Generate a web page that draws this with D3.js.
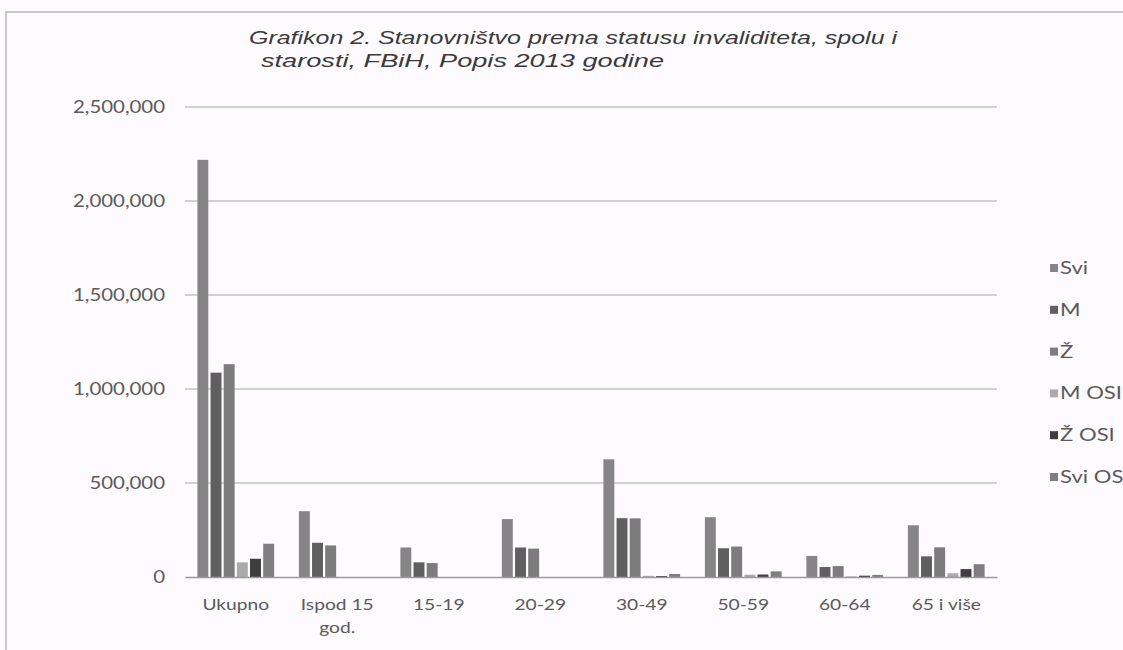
<!DOCTYPE html>
<html>
<head>
<meta charset="utf-8">
<script src="https://cdn.jsdelivr.net/npm/d3@7"></script>
<style>
  body { margin: 0; background: #fdfbfd; overflow: hidden; }
  svg { display: block; }
</style>
</head>
<body>
<div id="chart"></div>
<script>
// categories and series
var categories = ["Ukupno", "Ispod 15 god.", "15-19", "20-29", "30-49", "50-59", "60-64", "65 i više"];
var seriesNames = ["Svi", "M", "Ž", "M OSI", "Ž OSI", "Svi OSI"];
var svi    = [2219000, 350000, 157000, 308000, 626000, 318000, 112000, 275000];
var m      = [1087000, 182000, 78000, 157000, 313000, 153000, 53000, 110000];
var z      = [1132000, 168000, 74000, 151000, 312000, 162000, 58000, 158000];
var mOsi   = [78000, 0, 0, 0, 6000, 12000, 3000, 20000];
var zOsi   = [97000, 0, 0, 0, 5000, 13000, 7000, 42000];
var sviOsi = [177000, 0, 0, 0, 16000, 30000, 11000, 68000];
var yTicks = [0, 500000, 1000000, 1500000, 2000000, 2500000];
var colors = ["#858585", "#5f5f5f", "#7c7c7c", "#ababab", "#3e3e3e", "#7e7e7e"];

var series = [svi, m, z, mOsi, zOsi, sviOsi];

var width = 1123, height = 650;
var margin = { top: 107, right: 126, bottom: 73, left: 185 };
var plotW = width - margin.left - margin.right,
    plotH = height - margin.top - margin.bottom;
var stretch = 1.2; // the scanned text is wider than it is tall
var labelFont = "Lato, 'Open Sans', sans-serif";

var svg = d3.select("#chart").append("svg")
    .attr("width", width)
    .attr("height", height);

// scan frame
svg.append("path")
    .attr("d", "M6," + height + "V12H" + width)
    .attr("fill", "none")
    .attr("stroke", "#c9c9c9")
    .attr("stroke-width", 2);

var g = svg.append("g")
    .attr("transform", "translate(" + margin.left + "," + margin.top + ")");

var x0 = d3.scaleBand()
    .domain(categories)
    .range([0, plotW])
    .paddingInner(0.2)
    .paddingOuter(0.1);
var x1 = d3.scaleBand()
    .domain(seriesNames)
    .range([0, x0.bandwidth()])
    .padding(0.17);
var y = d3.scaleLinear()
    .domain([0, 2500000])
    .range([plotH, 0]);

// gridlines
g.append("g")
    .selectAll("line")
    .data(yTicks.slice(1))
    .enter().append("line")
    .attr("x1", 0)
    .attr("x2", plotW)
    .attr("y1", function(d) { return y(d) })
    .attr("y2", function(d) { return y(d) })
    .attr("stroke", "#a9a9a9")
    .attr("stroke-width", 1.2);

// y axis labels
var yAxis = g.append("g")
    .call(d3.axisLeft(y).tickValues(yTicks).tickSize(0).tickFormat(d3.format(",")));
yAxis.select(".domain").remove();
yAxis.selectAll("text")
    .attr("x", -20 / stretch)
    .attr("transform", "scale(" + stretch + ",1)")
    .attr("font-family", labelFont)
    .attr("font-size", 17)
    .attr("fill", "#5a5a5a");

// bars
var groups = g.selectAll(".grp")
    .data(categories)
    .enter().append("g")
    .attr("class", "grp")
    .attr("transform", function(d) { return "translate(" + x0(d) + ",0)" });

groups.selectAll("rect")
    .data(function(d, i) {
        return seriesNames.map(function(s, k) { return { key: s, value: series[k][i], k: k } });
    })
    .enter().append("rect")
    .attr("x", function(d) { return x1(d.key) })
    .attr("width", x1.bandwidth())
    .attr("y", function(d) { return y(d.value) })
    .attr("height", function(d) { return plotH - y(d.value) })
    .attr("fill", function(d) { return colors[d.k] });

// x axis
var xAxis = g.append("g")
    .attr("transform", "translate(0," + plotH + ")")
    .call(d3.axisBottom(x0).tickSize(0).tickPadding(22));
xAxis.select(".domain")
    .attr("stroke", "#9a9a9a")
    .attr("stroke-width", 1.5);
xAxis.selectAll("text")
    .attr("transform", "scale(" + stretch + ",1)")
    .attr("font-family", labelFont)
    .attr("font-size", 16)
    .attr("fill", "#5a5a5a")
    .each(function(d) {
        if (d === "Ispod 15 god.") {
            var t = d3.select(this).text(null);
            t.append("tspan").attr("x", 0).attr("dy", "0.71em").text("Ispod 15");
            t.append("tspan").attr("x", 0).attr("dy", "1.4em").text("god.");
            t.attr("dy", null);
        }
    });

// title
var title = svg.append("text")
    .attr("font-family", "'Liberation Sans', Arial, sans-serif")
    .attr("font-style", "italic")
    .attr("font-size", 18)
    .attr("fill", "#3a3a3a");
title.append("tspan").attr("x", 249).attr("y", 44)
    .attr("textLength", 648).attr("lengthAdjust", "spacingAndGlyphs")
    .text("Grafikon 2. Stanovništvo prema statusu invaliditeta, spolu i");
title.append("tspan").attr("x", 261).attr("y", 67)
    .attr("textLength", 403).attr("lengthAdjust", "spacingAndGlyphs")
    .text("starosti, FBiH, Popis 2013 godine");

// legend
var legend = svg.append("g")
    .attr("transform", "translate(1050,268)");
var li = legend.selectAll("g")
    .data(seriesNames)
    .enter().append("g")
    .attr("transform", function(d, i) { return "translate(0," + (i * 41.8) + ")" });
li.append("rect")
    .attr("x", 0)
    .attr("y", -4)
    .attr("width", 8)
    .attr("height", 8)
    .attr("fill", function(d, i) { return colors[i] });
li.append("text")
    .attr("transform", "translate(10,0) scale(1.3,1)")
    .attr("dy", "0.35em")
    .attr("font-family", labelFont)
    .attr("font-size", 17)
    .attr("fill", "#5a5a5a")
    .text(function(d) { return d });
</script>
</body>
</html>
